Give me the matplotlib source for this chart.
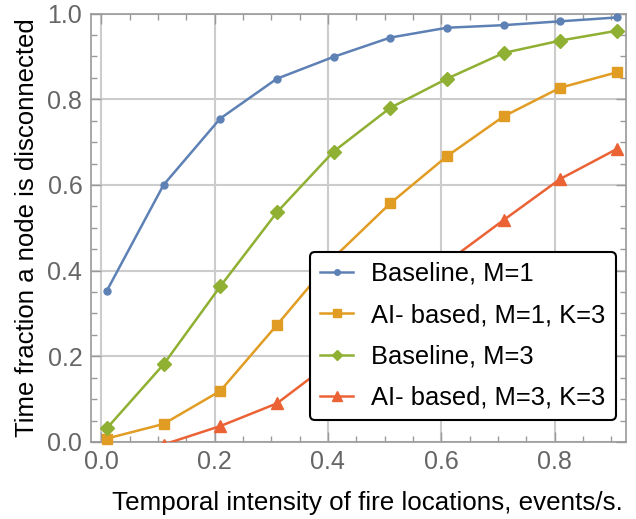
import matplotlib
matplotlib.use('Agg')
import matplotlib.pyplot as plt
from matplotlib.ticker import MultipleLocator, FormatStrFormatter

plt.rcParams['font.family'] = ['Liberation Sans', 'DejaVu Sans']

# data
x = [0.01, 0.11, 0.21, 0.31, 0.41, 0.51, 0.61, 0.71, 0.81, 0.91]
base_m1 = [0.353, 0.600, 0.755, 0.848, 0.899, 0.944, 0.967, 0.973, 0.982, 0.991]
ai_m1k3 = [0.008, 0.042, 0.119, 0.273, 0.43, 0.557, 0.667, 0.760, 0.827, 0.863]
base_m3 = [0.032, 0.181, 0.363, 0.536, 0.678, 0.780, 0.848, 0.908, 0.937, 0.960]
x_ai3 = [0.11, 0.21, 0.31, 0.41, 0.51, 0.61, 0.71, 0.81, 0.91]
ai_m3k3 = [-0.006, 0.037, 0.090, 0.19, 0.30, 0.42, 0.518, 0.614, 0.684]

labels = ['Baseline, M=1', 'AI- based, M=1, K=3', 'Baseline, M=3', 'AI- based, M=3, K=3']
colors = ['#5E81B5', '#E19C24', '#8FB032', '#EB6235']

fig = plt.figure(figsize=(6.36, 5.19), dpi=100)
ax = fig.add_axes([0.1426, 0.1484, 0.8417, 0.8254])

ax.plot(x, base_m1, color=colors[0], marker='o', ms=5, lw=1.8, label=labels[0], clip_on=False, zorder=3)
ax.plot(x, ai_m1k3, color=colors[1], marker='s', ms=7, lw=1.8, label=labels[1], clip_on=False, zorder=3)
ax.plot(x, base_m3, color=colors[2], marker='D', ms=7, lw=1.8, label=labels[2], clip_on=False, zorder=3)
ax.plot(x_ai3, ai_m3k3, color=colors[3], marker='^', ms=9, lw=1.8, label=labels[3], clip_on=True, zorder=3)

ax.set_xlim(-0.0185, 0.926)
ax.set_ylim(0, 1.0)
ax.xaxis.set_major_locator(MultipleLocator(0.2))
ax.xaxis.set_minor_locator(MultipleLocator(0.05))
ax.yaxis.set_major_locator(MultipleLocator(0.2))
ax.yaxis.set_minor_locator(MultipleLocator(0.05))
ax.xaxis.set_major_formatter(FormatStrFormatter('%.1f'))
ax.yaxis.set_major_formatter(FormatStrFormatter('%.1f'))

ax.tick_params(which='both', direction='in', top=True, right=True, color='#999999', width=1)
ax.tick_params(which='major', length=7, labelsize=18, labelcolor='#666666', pad=6)
ax.tick_params(which='minor', length=4)
for s in ax.spines.values():
    s.set_color('#999999')
    s.set_linewidth(1.2)

ax.grid(True, which='major', color='#cccccc', lw=1.5, zorder=0)
ax.set_axisbelow(True)

ax.set_xlabel('Temporal intensity of fire locations, events/s.', fontsize=18.7, labelpad=10)
ax.xaxis.set_label_coords(0.516, -0.115)
ax.set_ylabel('Time fraction a node is disconnected', fontsize=18.5, labelpad=6)

leg = ax.legend(loc='lower right', bbox_to_anchor=(0.981, 0.051), borderaxespad=0,
                fontsize=18.4, frameon=True, fancybox=True, edgecolor='black',
                framealpha=1, handlelength=1.3, handletextpad=0.7, markerscale=0.8,
                labelspacing=0.68, borderpad=0.4)
leg.get_frame().set_linewidth(1.5)

fig.savefig('out.png', dpi=100)
